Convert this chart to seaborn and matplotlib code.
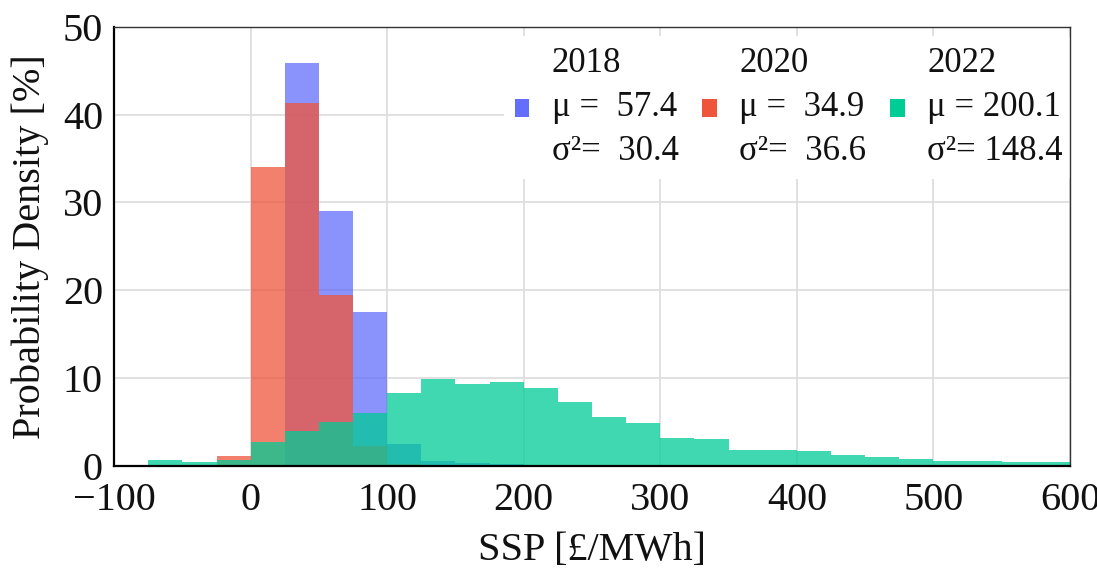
import numpy as np
import pandas as pd
import matplotlib
matplotlib.use("Agg")
import matplotlib.pyplot as plt
from matplotlib.patches import Patch
import seaborn as sns

# Histogram bins of the system sell price (25 £/MWh wide)
bin_edges = list(range(-75, 625, 25))
bin_centers = [e + 12.5 for e in bin_edges[:-1]]

# Share of settlement periods per bin [%]
ssp_2018 = [0, 0, 0, 0, 45.9, 29.0, 17.5, 2.5, 0.5, 0.35, 0.2, 0, 0, 0,
            0, 0, 0, 0, 0, 0, 0, 0, 0, 0, 0, 0, 0]
ssp_2020 = [0, 0, 1.1, 34.0, 41.3, 19.4, 2.25, 0.2, 0, 0, 0, 0, 0, 0,
            0, 0, 0, 0, 0, 0, 0, 0, 0, 0, 0, 0, 0]
ssp_2022 = [0.6, 0.4, 0.6, 2.7, 4.0, 5.0, 5.95, 8.25, 9.9, 9.35, 9.55, 8.8,
            7.3, 5.5, 4.9, 3.2, 3.0, 1.84, 1.84, 1.7, 1.2, 0.98, 0.75, 0.56,
            0.5, 0.38, 0.38]

years = ["2018", "2020", "2022"]
means = [57.4, 34.9, 200.1]
variances = [30.4, 36.6, 148.4]
colors = ["#636EFA", "#EF553B", "#00CC96"]

df = pd.DataFrame({
    "ssp": bin_centers * 3,
    "share": ssp_2018 + ssp_2020 + ssp_2022,
    "year": [y for y in years for _ in bin_centers],
})

sns.set_theme(style="white")
plt.rcParams["font.family"] = ["Liberation Serif", "DejaVu Serif"]

fig = plt.figure(figsize=(10.97, 5.70), dpi=100)
ax = fig.add_axes([0.104, 0.183, 0.8714, 0.770])

for year, color in zip(years, colors):
    sns.histplot(
        data=df[df["year"] == year], x="ssp", weights="share",
        bins=bin_edges, stat="count", color=color, alpha=0.75,
        linewidth=0, edgecolor="none", ax=ax, zorder=2,
    )

ax.set_xlim(-100, 600)
ax.set_ylim(0, 50)
ax.set_xticks(range(-100, 700, 100))
ax.set_yticks(range(0, 60, 10))
ax.grid(True, color="#DEDEDE", linewidth=1.3, zorder=0)
ax.set_axisbelow(True)
ax.tick_params(axis="both", labelsize=29, length=0, colors="#111111")
ax.tick_params(axis="y", pad=8)
ax.tick_params(axis="x", pad=12)

ax.set_xlabel("SSP [£/MWh]", fontsize=29, labelpad=9, color="#111111")
ax.set_ylabel("Probability Density [%]", fontsize=29, labelpad=10, color="#111111")

for side in ["left", "bottom"]:
    ax.spines[side].set_color("black")
    ax.spines[side].set_linewidth(1.6)
for side in ["top", "right"]:
    ax.spines[side].set_color("#333333")
    ax.spines[side].set_linewidth(1.0)
for s in ax.spines.values():
    s.set_zorder(5)

handles = [Patch(facecolor=c, edgecolor="none") for c in colors]
labels = [f"{y}\nμ =  {m:.1f}\nσ²=  {v:.1f}" if m < 100 else
          f"{y}\nμ = {m:.1f}\nσ²= {v:.1f}"
          for y, m, v in zip(years, means, variances)]
leg = ax.legend(
    handles, labels, ncol=3, loc="upper left",
    bbox_to_anchor=(0.39, 1.018), fontsize=25, frameon=True,
    facecolor="white", edgecolor="none", framealpha=1.0,
    handlelength=0.42, handleheight=0.42, handletextpad=0.65,
    columnspacing=0.68, borderpad=0.3, labelspacing=0.3,
)
for t in leg.get_texts():
    t.set_linespacing(1.45)
    t.set_color("#111111")
leg.set_zorder(4)

fig.savefig("out.png", dpi=100)
